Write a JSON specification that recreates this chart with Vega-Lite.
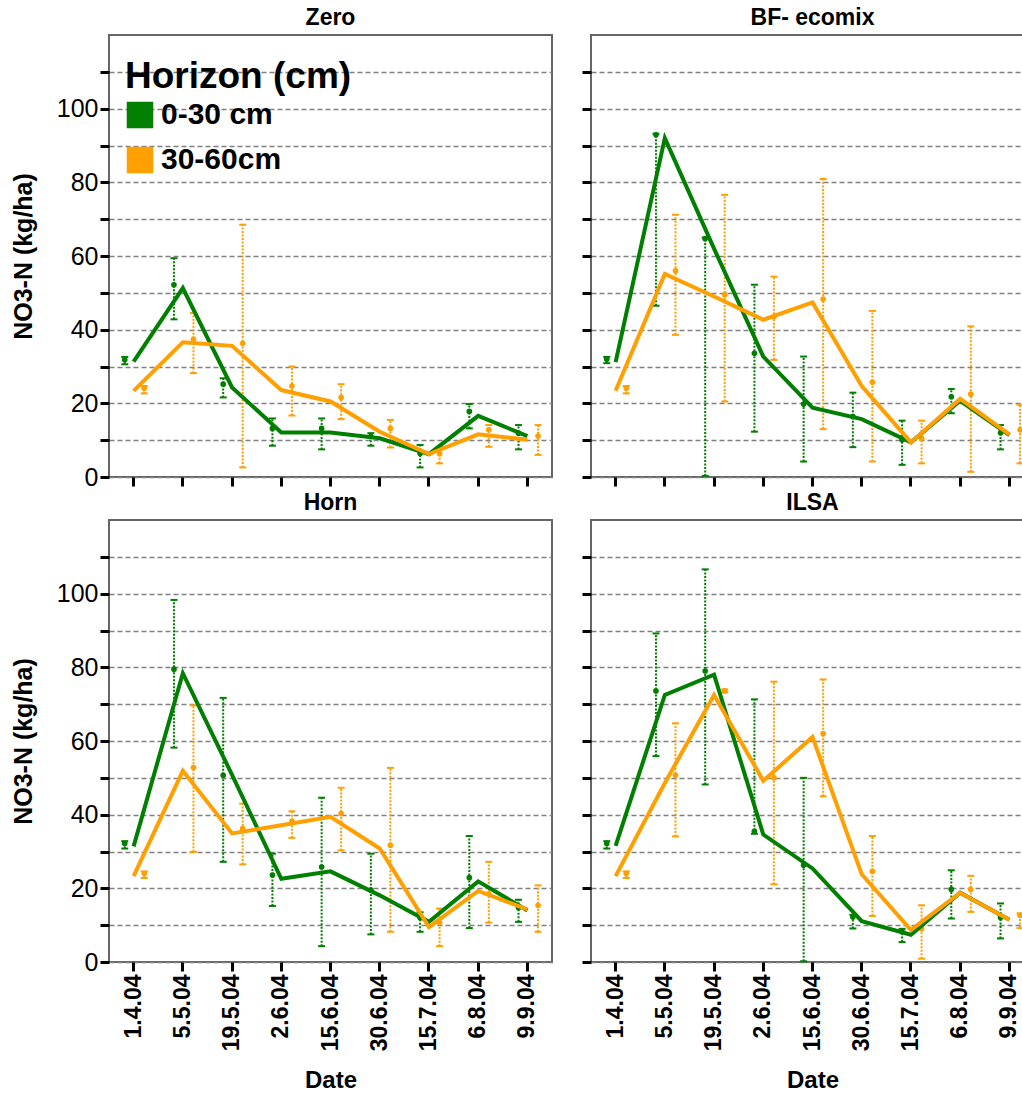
{
  "$schema": "https://vega.github.io/schema/vega-lite/v6.json",
  "padding": {"left": 10, "top": 6, "right": 0, "bottom": 0},
  "data": {"values": [
    {"panel":"Zero","date":"1.4.04","horizon":"0-30 cm","mean":31.8,"lo":30.6,"hi":32.6,"fit":31.3},
    {"panel":"Zero","date":"5.5.04","horizon":"0-30 cm","mean":52.2,"lo":42.8,"hi":59.4,"fit":51.3},
    {"panel":"Zero","date":"19.5.04","horizon":"0-30 cm","mean":25.2,"lo":21.6,"hi":26.8,"fit":24.3},
    {"panel":"Zero","date":"2.6.04","horizon":"0-30 cm","mean":13.2,"lo":8.5,"hi":15.9,"fit":12.1},
    {"panel":"Zero","date":"15.6.04","horizon":"0-30 cm","mean":13.2,"lo":7.5,"hi":15.9,"fit":12.1},
    {"panel":"Zero","date":"30.6.04","horizon":"0-30 cm","mean":11.0,"lo":8.5,"hi":11.9,"fit":10.5},
    {"panel":"Zero","date":"15.7.04","horizon":"0-30 cm","mean":6.4,"lo":2.6,"hi":8.7,"fit":6.2},
    {"panel":"Zero","date":"6.8.04","horizon":"0-30 cm","mean":17.8,"lo":13.2,"hi":19.8,"fit":16.6},
    {"panel":"Zero","date":"9.9.04","horizon":"0-30 cm","mean":11.9,"lo":7.5,"hi":14.1,"fit":11.1},
    {"panel":"Zero","date":"1.4.04","horizon":"30-60cm","mean":24.1,"lo":22.7,"hi":24.7,"fit":23.4},
    {"panel":"Zero","date":"5.5.04","horizon":"30-60cm","mean":37.4,"lo":28.2,"hi":44.5,"fit":36.6},
    {"panel":"Zero","date":"19.5.04","horizon":"30-60cm","mean":36.3,"lo":2.6,"hi":68.5,"fit":35.6},
    {"panel":"Zero","date":"2.6.04","horizon":"30-60cm","mean":24.7,"lo":16.7,"hi":30.0,"fit":23.6},
    {"panel":"Zero","date":"15.6.04","horizon":"30-60cm","mean":21.6,"lo":15.7,"hi":25.2,"fit":20.5},
    {"panel":"Zero","date":"30.6.04","horizon":"30-60cm","mean":13.2,"lo":8.0,"hi":15.5,"fit":12.3},
    {"panel":"Zero","date":"15.7.04","horizon":"30-60cm","mean":6.3,"lo":3.7,"hi":8.0,"fit":6.2},
    {"panel":"Zero","date":"6.8.04","horizon":"30-60cm","mean":12.8,"lo":8.2,"hi":14.1,"fit":11.6},
    {"panel":"Zero","date":"9.9.04","horizon":"30-60cm","mean":11.1,"lo":6.0,"hi":14.1,"fit":10.1},
    {"panel":"BF- ecomix","date":"1.4.04","horizon":"0-30 cm","mean":32.0,"lo":30.9,"hi":32.6,"fit":31.2},
    {"panel":"BF- ecomix","date":"5.5.04","horizon":"0-30 cm","mean":92.9,"lo":46.5,"hi":93.2,"fit":92.0},
    {"panel":"BF- ecomix","date":"19.5.04","horizon":"0-30 cm","mean":64.7,"lo":0.3,"hi":65.0,"fit":62.0},
    {"panel":"BF- ecomix","date":"2.6.04","horizon":"0-30 cm","mean":33.6,"lo":12.3,"hi":52.2,"fit":32.7},
    {"panel":"BF- ecomix","date":"15.6.04","horizon":"0-30 cm","mean":19.8,"lo":4.2,"hi":32.7,"fit":18.8},
    {"panel":"BF- ecomix","date":"30.6.04","horizon":"0-30 cm","mean":16.4,"lo":8.1,"hi":22.9,"fit":15.7},
    {"panel":"BF- ecomix","date":"15.7.04","horizon":"0-30 cm","mean":10.1,"lo":3.3,"hi":15.3,"fit":9.4},
    {"panel":"BF- ecomix","date":"6.8.04","horizon":"0-30 cm","mean":21.8,"lo":17.3,"hi":23.9,"fit":20.7},
    {"panel":"BF- ecomix","date":"9.9.04","horizon":"0-30 cm","mean":12.0,"lo":7.5,"hi":14.1,"fit":11.4},
    {"panel":"BF- ecomix","date":"1.4.04","horizon":"30-60cm","mean":24.1,"lo":22.7,"hi":24.7,"fit":23.4},
    {"panel":"BF- ecomix","date":"5.5.04","horizon":"30-60cm","mean":56.0,"lo":38.6,"hi":71.2,"fit":55.1},
    {"panel":"BF- ecomix","date":"19.5.04","horizon":"30-60cm","mean":49.5,"lo":20.5,"hi":76.6,"fit":49.0},
    {"panel":"BF- ecomix","date":"2.6.04","horizon":"30-60cm","mean":43.5,"lo":31.8,"hi":54.4,"fit":42.7},
    {"panel":"BF- ecomix","date":"15.6.04","horizon":"30-60cm","mean":48.3,"lo":13.0,"hi":80.9,"fit":47.4},
    {"panel":"BF- ecomix","date":"30.6.04","horizon":"30-60cm","mean":25.7,"lo":4.2,"hi":45.1,"fit":24.7},
    {"panel":"BF- ecomix","date":"15.7.04","horizon":"30-60cm","mean":10.5,"lo":3.7,"hi":15.3,"fit":9.4},
    {"panel":"BF- ecomix","date":"6.8.04","horizon":"30-60cm","mean":22.5,"lo":1.4,"hi":40.9,"fit":21.2},
    {"panel":"BF- ecomix","date":"9.9.04","horizon":"30-60cm","mean":12.8,"lo":3.7,"hi":19.6,"fit":11.6},
    {"panel":"Horn","date":"1.4.04","horizon":"0-30 cm","mean":32.2,"lo":30.8,"hi":32.8,"fit":31.4},
    {"panel":"Horn","date":"5.5.04","horizon":"0-30 cm","mean":79.5,"lo":58.2,"hi":98.3,"fit":78.4},
    {"panel":"Horn","date":"19.5.04","horizon":"0-30 cm","mean":50.7,"lo":27.2,"hi":71.7,"fit":50.8},
    {"panel":"Horn","date":"2.6.04","horizon":"0-30 cm","mean":23.6,"lo":15.2,"hi":29.4,"fit":22.6},
    {"panel":"Horn","date":"15.6.04","horizon":"0-30 cm","mean":25.8,"lo":4.3,"hi":44.6,"fit":24.6},
    {"panel":"Horn","date":"30.6.04","horizon":"0-30 cm","mean":19.5,"lo":7.5,"hi":29.4,"fit":18.1},
    {"panel":"Horn","date":"15.7.04","horizon":"0-30 cm","mean":12.0,"lo":8.2,"hi":13.5,"fit":10.9},
    {"panel":"Horn","date":"6.8.04","horizon":"0-30 cm","mean":22.9,"lo":9.2,"hi":34.2,"fit":21.9},
    {"panel":"Horn","date":"9.9.04","horizon":"0-30 cm","mean":14.7,"lo":10.9,"hi":16.9,"fit":14.0},
    {"panel":"Horn","date":"1.4.04","horizon":"30-60cm","mean":24.0,"lo":22.8,"hi":24.6,"fit":23.3},
    {"panel":"Horn","date":"5.5.04","horizon":"30-60cm","mean":52.8,"lo":29.9,"hi":69.7,"fit":51.9},
    {"panel":"Horn","date":"19.5.04","horizon":"30-60cm","mean":36.2,"lo":26.5,"hi":43.0,"fit":34.9},
    {"panel":"Horn","date":"2.6.04","horizon":"30-60cm","mean":38.2,"lo":33.7,"hi":40.9,"fit":37.1},
    {"panel":"Horn","date":"15.6.04","horizon":"30-60cm","mean":40.3,"lo":30.3,"hi":47.3,"fit":39.4},
    {"panel":"Horn","date":"30.6.04","horizon":"30-60cm","mean":31.7,"lo":8.2,"hi":52.7,"fit":30.8},
    {"panel":"Horn","date":"15.7.04","horizon":"30-60cm","mean":10.7,"lo":4.3,"hi":14.5,"fit":9.5},
    {"panel":"Horn","date":"6.8.04","horizon":"30-60cm","mean":18.5,"lo":10.7,"hi":27.2,"fit":19.3},
    {"panel":"Horn","date":"9.9.04","horizon":"30-60cm","mean":15.4,"lo":8.2,"hi":20.8,"fit":14.3},
    {"panel":"ILSA","date":"1.4.04","horizon":"0-30 cm","mean":32.2,"lo":30.8,"hi":32.8,"fit":31.5},
    {"panel":"ILSA","date":"5.5.04","horizon":"0-30 cm","mean":73.6,"lo":55.9,"hi":89.2,"fit":72.5},
    {"panel":"ILSA","date":"19.5.04","horizon":"0-30 cm","mean":79.0,"lo":48.2,"hi":106.6,"fit":78.0},
    {"panel":"ILSA","date":"2.6.04","horizon":"0-30 cm","mean":35.5,"lo":34.8,"hi":71.3,"fit":34.6},
    {"panel":"ILSA","date":"15.6.04","horizon":"0-30 cm","mean":26.3,"lo":0.2,"hi":50.0,"fit":25.4},
    {"panel":"ILSA","date":"30.6.04","horizon":"0-30 cm","mean":12.2,"lo":9.1,"hi":12.8,"fit":11.1},
    {"panel":"ILSA","date":"15.7.04","horizon":"0-30 cm","mean":8.2,"lo":5.4,"hi":9.0,"fit":7.4},
    {"panel":"ILSA","date":"6.8.04","horizon":"0-30 cm","mean":19.7,"lo":11.8,"hi":24.9,"fit":18.8},
    {"panel":"ILSA","date":"9.9.04","horizon":"0-30 cm","mean":12.1,"lo":6.4,"hi":15.9,"fit":11.5},
    {"panel":"ILSA","date":"1.4.04","horizon":"30-60cm","mean":24.0,"lo":22.8,"hi":24.6,"fit":23.3},
    {"panel":"ILSA","date":"5.5.04","horizon":"30-60cm","mean":50.7,"lo":34.1,"hi":64.8,"fit":48.6},
    {"panel":"ILSA","date":"19.5.04","horizon":"30-60cm","mean":73.6,"lo":73.2,"hi":74.0,"fit":72.5},
    {"panel":"ILSA","date":"2.6.04","horizon":"30-60cm","mean":50.0,"lo":21.1,"hi":76.1,"fit":49.2},
    {"panel":"ILSA","date":"15.6.04","horizon":"30-60cm","mean":62.0,"lo":45.0,"hi":76.7,"fit":61.1},
    {"panel":"ILSA","date":"30.6.04","horizon":"30-60cm","mean":24.6,"lo":12.5,"hi":34.2,"fit":23.8},
    {"panel":"ILSA","date":"15.7.04","horizon":"30-60cm","mean":9.0,"lo":0.9,"hi":15.4,"fit":8.7},
    {"panel":"ILSA","date":"6.8.04","horizon":"30-60cm","mean":19.7,"lo":13.6,"hi":23.4,"fit":18.8},
    {"panel":"ILSA","date":"9.9.04","horizon":"30-60cm","mean":12.7,"lo":9.2,"hi":13.2,"fit":11.5}
  ]},
  "columns": 2,
  "spacing": {"row": 0, "column": 26},
  "resolve": {"scale": {"color": "independent"}, "legend": {"color": "independent"}},
  "concat": [
    {
      "title": {"text": "Zero"},
      "width": 443, "height": 442,
      "transform": [{"filter": "datum.panel === 'Zero'"}],
      "encoding": {
        "x": {"field": "date", "type": "ordinal", "sort": ["1.4.04","5.5.04","19.5.04","2.6.04","15.6.04","30.6.04","15.7.04","6.8.04","9.9.04"], "scale": {"type": "band", "paddingInner": 0, "paddingOuter": 0}, "axis": {"labels": false, "title": null}},
        "color": {"field": "horizon", "type": "nominal", "scale": {"domain": ["0-30 cm","30-60cm"], "range": ["#007f00","#ff9f00"]},
          "legend": {"title": "Horizon (cm)", "orient": "none", "legendX": 16, "legendY": 24, "titleFontSize": 37, "titleFontWeight": "bold", "titleColor": "#000", "titleLimit": 400, "titlePadding": 4, "labelFontSize": 30, "labelFontWeight": "bold", "labelColor": "#000", "labelLimit": 300, "labelOffset": 6, "rowPadding": 11, "symbolType": "square", "symbolSize": 576, "symbolStrokeWidth": 2.5, "symbolStrokeColor": "#1a1a1a", "symbolOpacity": 1,
            "encode": {"symbols": {"enter": {"stroke": {"value": "#1a1a1a"}, "strokeWidth": {"value": 2.5}}, "update": {"shape": {"value": "square"}, "size": {"value": 576}, "fill": [{"test": "datum.value === '0-30 cm'", "value": "#007f00"}, {"value": "#ff9f00"}], "stroke": {"value": "#1a1a1a"}, "strokeWidth": {"value": 2.5}, "opacity": {"value": 1}, "fillOpacity": {"value": 1}, "strokeOpacity": {"value": 1}}}}}}
      },
      "layer": [
        {"mark": {"type": "point", "filled": true, "size": 32, "opacity": 1}, "encoding": {"xOffset": {"field": "horizon", "scale": {"domain": ["0-30 cm","30-60cm"], "range": [6, 45]}}, "y": {"field": "mean", "type": "quantitative", "scale": {"domain": [0, 120], "nice": false}, "axis": {"values": [0,10,20,30,40,50,60,70,80,90,100,110], "labelExpr": "datum.value % 20 === 0 ? datum.label : ''", "title": "NO3-N (kg/ha)", "grid": true}}}},
        {"mark": {"type": "rule", "strokeDash": [2, 1.5], "strokeWidth": 2}, "encoding": {"xOffset": {"field": "horizon", "scale": {"domain": ["0-30 cm","30-60cm"], "range": [6, 45]}}, "y": {"field": "lo", "type": "quantitative", "scale": {"domain": [0, 120], "nice": false}, "axis": {"values": [0,10,20,30,40,50,60,70,80,90,100,110], "labelExpr": "datum.value % 20 === 0 ? datum.label : ''", "title": "NO3-N (kg/ha)", "grid": true}}, "y2": {"field": "hi"}}},
        {"mark": {"type": "tick", "size": 7, "thickness": 2, "opacity": 1}, "encoding": {"xOffset": {"field": "horizon", "scale": {"domain": ["0-30 cm","30-60cm"], "range": [6, 45]}}, "y": {"field": "lo", "type": "quantitative", "axis": {"values": [0,10,20,30,40,50,60,70,80,90,100,110], "labelExpr": "datum.value % 20 === 0 ? datum.label : ''", "title": "NO3-N (kg/ha)", "grid": true}}}},
        {"mark": {"type": "tick", "size": 7, "thickness": 2, "opacity": 1}, "encoding": {"xOffset": {"field": "horizon", "scale": {"domain": ["0-30 cm","30-60cm"], "range": [6, 45]}}, "y": {"field": "hi", "type": "quantitative", "axis": {"values": [0,10,20,30,40,50,60,70,80,90,100,110], "labelExpr": "datum.value % 20 === 0 ? datum.label : ''", "title": "NO3-N (kg/ha)", "grid": true}}}},
        {"mark": {"type": "line", "strokeWidth": 4}, "encoding": {"y": {"field": "fit", "type": "quantitative", "axis": {"values": [0,10,20,30,40,50,60,70,80,90,100,110], "labelExpr": "datum.value % 20 === 0 ? datum.label : ''", "title": "NO3-N (kg/ha)", "grid": true}}}}
      ]
    },
    {
      "title": {"text": "BF- ecomix"},
      "width": 443, "height": 442,
      "transform": [{"filter": "datum.panel === 'BF- ecomix'"}],
      "encoding": {
        "x": {"field": "date", "type": "ordinal", "sort": ["1.4.04","5.5.04","19.5.04","2.6.04","15.6.04","30.6.04","15.7.04","6.8.04","9.9.04"], "scale": {"type": "band", "paddingInner": 0, "paddingOuter": 0}, "axis": {"labels": false, "title": null}},
        "color": {"field": "horizon", "type": "nominal", "scale": {"domain": ["0-30 cm","30-60cm"], "range": ["#007f00","#ff9f00"]}, "legend": null}
      },
      "layer": [
        {"mark": {"type": "point", "filled": true, "size": 32, "opacity": 1}, "encoding": {"xOffset": {"field": "horizon", "scale": {"domain": ["0-30 cm","30-60cm"], "range": [6, 45]}}, "y": {"field": "mean", "type": "quantitative", "scale": {"domain": [0, 120], "nice": false}, "axis": {"values": [0,10,20,30,40,50,60,70,80,90,100,110], "labels": false, "title": null, "grid": true}}}},
        {"mark": {"type": "rule", "strokeDash": [2, 1.5], "strokeWidth": 2}, "encoding": {"xOffset": {"field": "horizon", "scale": {"domain": ["0-30 cm","30-60cm"], "range": [6, 45]}}, "y": {"field": "lo", "type": "quantitative", "scale": {"domain": [0, 120], "nice": false}, "axis": {"values": [0,10,20,30,40,50,60,70,80,90,100,110], "labels": false, "title": null, "grid": true}}, "y2": {"field": "hi"}}},
        {"mark": {"type": "tick", "size": 7, "thickness": 2, "opacity": 1}, "encoding": {"xOffset": {"field": "horizon", "scale": {"domain": ["0-30 cm","30-60cm"], "range": [6, 45]}}, "y": {"field": "lo", "type": "quantitative", "axis": {"values": [0,10,20,30,40,50,60,70,80,90,100,110], "labels": false, "title": null, "grid": true}}}},
        {"mark": {"type": "tick", "size": 7, "thickness": 2, "opacity": 1}, "encoding": {"xOffset": {"field": "horizon", "scale": {"domain": ["0-30 cm","30-60cm"], "range": [6, 45]}}, "y": {"field": "hi", "type": "quantitative", "axis": {"values": [0,10,20,30,40,50,60,70,80,90,100,110], "labels": false, "title": null, "grid": true}}}},
        {"mark": {"type": "line", "strokeWidth": 4}, "encoding": {"y": {"field": "fit", "type": "quantitative", "axis": {"values": [0,10,20,30,40,50,60,70,80,90,100,110], "labels": false, "title": null, "grid": true}}}}
      ]
    },
    {
      "title": {"text": "Horn"},
      "width": 443, "height": 442,
      "transform": [{"filter": "datum.panel === 'Horn'"}],
      "encoding": {
        "x": {"field": "date", "type": "ordinal", "sort": ["1.4.04","5.5.04","19.5.04","2.6.04","15.6.04","30.6.04","15.7.04","6.8.04","9.9.04"], "scale": {"type": "band", "paddingInner": 0, "paddingOuter": 0}, "axis": {"title": "Date"}},
        "color": {"field": "horizon", "type": "nominal", "scale": {"domain": ["0-30 cm","30-60cm"], "range": ["#007f00","#ff9f00"]}, "legend": null}
      },
      "layer": [
        {"mark": {"type": "point", "filled": true, "size": 32, "opacity": 1}, "encoding": {"xOffset": {"field": "horizon", "scale": {"domain": ["0-30 cm","30-60cm"], "range": [6, 45]}}, "y": {"field": "mean", "type": "quantitative", "scale": {"domain": [0, 120], "nice": false}, "axis": {"values": [0,10,20,30,40,50,60,70,80,90,100,110], "labelExpr": "datum.value % 20 === 0 ? datum.label : ''", "title": "NO3-N (kg/ha)", "grid": true}}}},
        {"mark": {"type": "rule", "strokeDash": [2, 1.5], "strokeWidth": 2}, "encoding": {"xOffset": {"field": "horizon", "scale": {"domain": ["0-30 cm","30-60cm"], "range": [6, 45]}}, "y": {"field": "lo", "type": "quantitative", "scale": {"domain": [0, 120], "nice": false}, "axis": {"values": [0,10,20,30,40,50,60,70,80,90,100,110], "labelExpr": "datum.value % 20 === 0 ? datum.label : ''", "title": "NO3-N (kg/ha)", "grid": true}}, "y2": {"field": "hi"}}},
        {"mark": {"type": "tick", "size": 7, "thickness": 2, "opacity": 1}, "encoding": {"xOffset": {"field": "horizon", "scale": {"domain": ["0-30 cm","30-60cm"], "range": [6, 45]}}, "y": {"field": "lo", "type": "quantitative", "axis": {"values": [0,10,20,30,40,50,60,70,80,90,100,110], "labelExpr": "datum.value % 20 === 0 ? datum.label : ''", "title": "NO3-N (kg/ha)", "grid": true}}}},
        {"mark": {"type": "tick", "size": 7, "thickness": 2, "opacity": 1}, "encoding": {"xOffset": {"field": "horizon", "scale": {"domain": ["0-30 cm","30-60cm"], "range": [6, 45]}}, "y": {"field": "hi", "type": "quantitative", "axis": {"values": [0,10,20,30,40,50,60,70,80,90,100,110], "labelExpr": "datum.value % 20 === 0 ? datum.label : ''", "title": "NO3-N (kg/ha)", "grid": true}}}},
        {"mark": {"type": "line", "strokeWidth": 4}, "encoding": {"y": {"field": "fit", "type": "quantitative", "axis": {"values": [0,10,20,30,40,50,60,70,80,90,100,110], "labelExpr": "datum.value % 20 === 0 ? datum.label : ''", "title": "NO3-N (kg/ha)", "grid": true}}}}
      ]
    },
    {
      "title": {"text": "ILSA"},
      "width": 443, "height": 442,
      "transform": [{"filter": "datum.panel === 'ILSA'"}],
      "encoding": {
        "x": {"field": "date", "type": "ordinal", "sort": ["1.4.04","5.5.04","19.5.04","2.6.04","15.6.04","30.6.04","15.7.04","6.8.04","9.9.04"], "scale": {"type": "band", "paddingInner": 0, "paddingOuter": 0}, "axis": {"title": "Date"}},
        "color": {"field": "horizon", "type": "nominal", "scale": {"domain": ["0-30 cm","30-60cm"], "range": ["#007f00","#ff9f00"]}, "legend": null}
      },
      "layer": [
        {"mark": {"type": "point", "filled": true, "size": 32, "opacity": 1}, "encoding": {"xOffset": {"field": "horizon", "scale": {"domain": ["0-30 cm","30-60cm"], "range": [6, 45]}}, "y": {"field": "mean", "type": "quantitative", "scale": {"domain": [0, 120], "nice": false}, "axis": {"values": [0,10,20,30,40,50,60,70,80,90,100,110], "labels": false, "title": null, "grid": true}}}},
        {"mark": {"type": "rule", "strokeDash": [2, 1.5], "strokeWidth": 2}, "encoding": {"xOffset": {"field": "horizon", "scale": {"domain": ["0-30 cm","30-60cm"], "range": [6, 45]}}, "y": {"field": "lo", "type": "quantitative", "scale": {"domain": [0, 120], "nice": false}, "axis": {"values": [0,10,20,30,40,50,60,70,80,90,100,110], "labels": false, "title": null, "grid": true}}, "y2": {"field": "hi"}}},
        {"mark": {"type": "tick", "size": 7, "thickness": 2, "opacity": 1}, "encoding": {"xOffset": {"field": "horizon", "scale": {"domain": ["0-30 cm","30-60cm"], "range": [6, 45]}}, "y": {"field": "lo", "type": "quantitative", "axis": {"values": [0,10,20,30,40,50,60,70,80,90,100,110], "labels": false, "title": null, "grid": true}}}},
        {"mark": {"type": "tick", "size": 7, "thickness": 2, "opacity": 1}, "encoding": {"xOffset": {"field": "horizon", "scale": {"domain": ["0-30 cm","30-60cm"], "range": [6, 45]}}, "y": {"field": "hi", "type": "quantitative", "axis": {"values": [0,10,20,30,40,50,60,70,80,90,100,110], "labels": false, "title": null, "grid": true}}}},
        {"mark": {"type": "line", "strokeWidth": 4}, "encoding": {"y": {"field": "fit", "type": "quantitative", "axis": {"values": [0,10,20,30,40,50,60,70,80,90,100,110], "labels": false, "title": null, "grid": true}}}}
      ]
    }
  ],
  "config": {
    "font": "Liberation Sans",
    "view": {"stroke": "#666666", "strokeWidth": 2},
    "axis": {"tickColor": "#000000", "tickWidth": 3, "tickSize": 9, "domain": false, "labelColor": "#000000", "titleColor": "#000000", "gridColor": "#808080", "gridDash": [5, 3], "gridWidth": 1.5},
    "axisX": {"grid": false, "labelFontSize": 23, "labelFontWeight": "bold", "labelAngle": -90, "labelPadding": 3, "titleFontSize": 24, "titleFontWeight": "bold", "titlePadding": 18},
    "axisY": {"labelFontSize": 25, "labelFontWeight": "normal", "labelPadding": 2, "titleFontSize": 25, "titleFontWeight": "bold", "titlePadding": 20},
    "title": {"fontSize": 23, "fontWeight": "bold", "offset": 5, "color": "#000000", "anchor": "middle"}
  }
}
